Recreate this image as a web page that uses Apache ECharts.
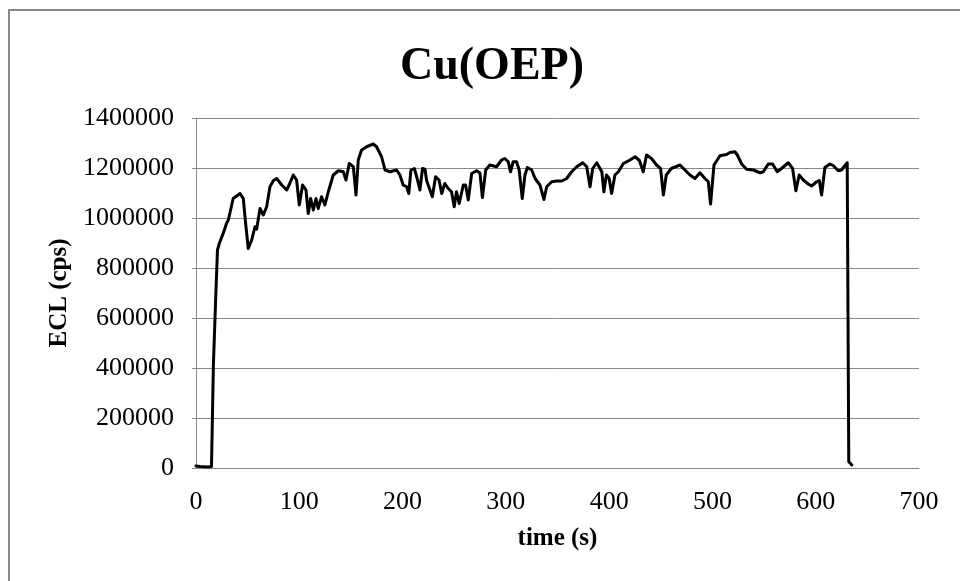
<!DOCTYPE html>
<html>
<head>
<meta charset="utf-8">
<script src="https://cdn.jsdelivr.net/npm/echarts@6/dist/echarts.min.js"></script>
<style>
  html, body { margin: 0; padding: 0; background: #fff; }
  #main { width: 960px; height: 581px; }
</style>
</head>
<body>
<div id="main"></div>
<script>
  // time (s) and ECL (cps)
  var timeS = [0, 4, 8, 12, 15, 16.8, 19, 20.8, 22.7, 26.5, 29.7, 31.3, 36, 42.6, 44.5, 45.8, 48, 50.6, 53.9, 57.1,
    58.7, 62, 65.2, 68.4, 71.6, 75, 78.1, 83, 87.8, 91, 94.2, 97.4, 100, 103.2, 106.5, 108.7, 111, 113.6, 116.2, 118.3,
    121.6, 124.8, 128.1, 132.9, 137.8, 142.6, 145.2, 148.4, 152.3, 154.9, 157.1, 160.3, 165.2, 171.6, 174.8, 179.7, 183, 187.8, 194.2, 197.4,
    200.6, 203.9, 206, 208.1, 211.4, 214, 216.8, 219.3, 221.7, 223.3, 228.8, 232, 235.3, 237.9, 240.9, 244.2, 247.4, 250, 252.2, 254.8,
    258.8, 261, 263.6, 266.9, 271.7, 274.9, 277.3, 280.5, 284.5, 291, 295.8, 299, 302.3, 304.5, 307.1, 310.3, 312.9, 315.9, 318.5, 320.8,
    325, 328.3, 333, 336.9, 339.5, 344.4, 349.2, 354.1, 358.9, 363.7, 368.6, 374.4, 378.3, 381.5, 384.1, 388, 392.9, 394.9, 397.4, 400,
    402.4, 405.6, 408.9, 413.8, 420.2, 425.1, 429.3, 433, 436.2, 441, 445.9, 449.8, 452.5, 455.3, 460.2, 468.6, 473.4, 478.2, 483.1, 487.9,
    492.7, 496, 498.2, 501.5, 507.3, 513.7, 517, 521.8, 524.1, 528.3, 533.1, 539.6, 546, 549.3, 554, 558.3, 562.7, 566.9, 573.4, 577.6,
    580.8, 584, 588, 592.7, 596, 600.9, 603.5, 605.7, 608.9, 613.7, 616.9, 621.8, 625, 630.5, 632, 635];
  var eclCps = [8000, 6000, 5000, 4000, 6000, 405000, 672000, 872000, 900000, 940000, 980000, 992000, 1078000, 1098000, 1100000, 1078000, 980000, 878000, 912000, 965000,
    955000, 1038000, 1012000, 1045000, 1125000, 1150000, 1158000, 1132000, 1112000, 1140000, 1172000, 1152000, 1052000, 1132000, 1112000, 1018000, 1078000, 1032000, 1078000, 1038000,
    1085000, 1052000, 1105000, 1172000, 1189000, 1185000, 1152000, 1218000, 1205000, 1092000, 1232000, 1272000, 1285000, 1296000, 1285000, 1245000, 1192000, 1185000, 1192000, 1172000,
    1132000, 1125000, 1098000, 1192000, 1198000, 1160000, 1112000, 1198000, 1195000, 1150000, 1085000, 1165000, 1152000, 1098000, 1138000, 1118000, 1105000, 1045000, 1105000, 1058000,
    1132000, 1132000, 1072000, 1178000, 1189000, 1180000, 1082000, 1192000, 1212000, 1205000, 1232000, 1238000, 1225000, 1185000, 1225000, 1225000, 1192000, 1078000, 1172000, 1202000,
    1192000, 1158000, 1132000, 1074000, 1125000, 1145000, 1148000, 1148000, 1158000, 1185000, 1205000, 1221000, 1205000, 1125000, 1198000, 1221000, 1185000, 1105000, 1172000, 1158000,
    1098000, 1172000, 1185000, 1218000, 1232000, 1245000, 1230000, 1185000, 1252000, 1238000, 1212000, 1198000, 1092000, 1172000, 1198000, 1212000, 1192000, 1172000, 1158000, 1181000,
    1158000, 1145000, 1056000, 1212000, 1249000, 1254000, 1262000, 1265000, 1252000, 1216000, 1195000, 1192000, 1181000, 1185000, 1216000, 1216000, 1185000, 1198000, 1221000, 1198000,
    1109000, 1172000, 1152000, 1136000, 1128000, 1145000, 1150000, 1092000, 1202000, 1216000, 1210000, 1189000, 1192000, 1221000, 25000, 12000];
  var xTicks = [0, 100, 200, 300, 400, 500, 600, 700];
  var yTicks = [0, 200000, 400000, 600000, 800000, 1000000, 1200000, 1400000];

  var points = timeS.map(function (t, i) { return [t, eclCps[i]]; });
  var serif = '"Liberation Serif", "Times New Roman", serif';

  var myChart = echarts.init(document.getElementById('main'));
  var option = {
    animation: false,
    backgroundColor: '#fff',
    title: {
      text: 'Cu(OEP)',
      left: 487,
      top: 39,
      textAlign: 'center',
      textStyle: { fontFamily: serif, fontWeight: 'bold', fontSize: 46, color: '#000' }
    },
    graphic: [{
      type: 'rect',
      shape: { x: 9, y: 10, width: 1200, height: 900 },
      style: { fill: 'none', stroke: '#888', lineWidth: 2 },
      silent: true
    }],
    grid: { left: 196, right: 41, top: 118, bottom: 113 },
    xAxis: {
      type: 'value',
      min: xTicks[0],
      max: xTicks[xTicks.length - 1],
      interval: 100,
      name: 'time (s)',
      nameLocation: 'middle',
      nameGap: 58,
      nameTextStyle: { fontFamily: serif, fontWeight: 'bold', fontSize: 25, color: '#000' },
      axisLine: { show: true, lineStyle: { color: '#888', width: 1 } },
      axisTick: { show: false },
      splitLine: { show: false },
      axisLabel: { margin: 21, fontFamily: serif, fontSize: 26, color: '#000' }
    },
    yAxis: {
      type: 'value',
      min: yTicks[0],
      max: yTicks[yTicks.length - 1],
      interval: 200000,
      name: 'ECL (cps)',
      nameLocation: 'middle',
      nameGap: 117,
      nameTextStyle: { fontFamily: serif, fontWeight: 'bold', fontSize: 25, color: '#000' },
      axisLine: { show: true, lineStyle: { color: '#888', width: 1 } },
      axisTick: { show: true, length: 4, lineStyle: { color: '#888' } },
      splitLine: { show: true, lineStyle: { color: '#888', width: 1 } },
      axisLabel: {
        margin: 22, fontFamily: serif, fontSize: 26, color: '#000',
        formatter: function (v) { return String(v); }
      }
    },
    series: [{
      type: 'line',
      data: points,
      showSymbol: false,
      smooth: false,
      lineStyle: { color: '#000', width: 3, join: 'round', cap: 'round' },
      itemStyle: { color: '#000' }
    }]
  };
  myChart.setOption(option);
</script>
</body>
</html>
